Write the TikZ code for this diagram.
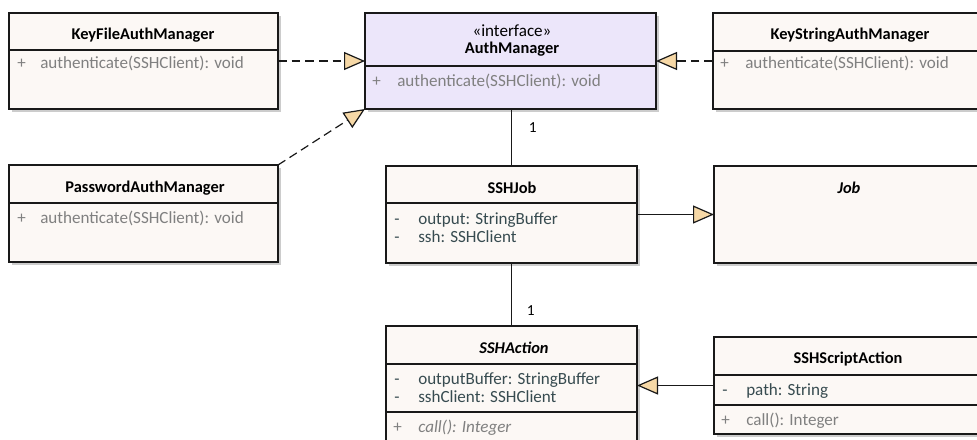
\documentclass[tikz,border=0pt]{standalone}
\usepackage{fontspec}
\setmainfont{Carlito}
\usetikzlibrary{arrows.meta,shadows}
\definecolor{boxfill}{RGB}{252,248,245}
\definecolor{ifill}{RGB}{236,230,250}
\definecolor{trifill}{RGB}{246,216,166}
\definecolor{methc}{RGB}{128,128,128}
\definecolor{attrc}{RGB}{55,75,80}
\definecolor{edgec}{RGB}{25,25,25}
\begin{document}
\begin{tikzpicture}[x=0.75pt,y=-0.75pt,
 cls/.style={draw=edgec,line width=1.3pt,fill=boxfill,rectangle,inner sep=0,outer sep=0,anchor=north west,
   drop shadow={shadow xshift=2.2pt,shadow yshift=-2.2pt,fill=black,opacity=0.2}},
 iface/.style={cls,fill=ifill},
 title/.style={font=\fontsize{12.3}{14}\selectfont\bfseries, inner sep=0, anchor=center},
 meth/.style={font=\fontsize{12.8}{15}\selectfont, text=methc, inner sep=0, anchor=west,
   text height=1.55ex, text depth=0.45ex, yshift=-1.2pt},
 attr/.style={meth,text=attrc},
 sepline/.style={draw=edgec,line width=0.9pt},
 gen/.style={draw=edgec,line width=0.9pt,-{Triangle[length=15.75pt,width=13.5pt,fill=trifill]}},
 real/.style={gen,dash pattern=on 6.5pt off 3.75pt},
 assoc/.style={draw=edgec,line width=0.9pt},
 mult/.style={font=\fontsize{11.5}{13}\selectfont,inner sep=0,anchor=west}
]
\clip (0,0) rectangle (977,439);
\fill[white] (0,0) rectangle (977,439);

% boxes
\node[cls,minimum width=201.75pt,minimum height=72pt] (KF) at (9,13) {};
\node[iface,minimum width=218.25pt,minimum height=72pt] (AM) at (365,13) {};
\node[cls,minimum width=211.5pt,minimum height=72pt] (KS) at (713,13) {};
\node[cls,minimum width=201.75pt,minimum height=72.75pt] (PW) at (9,165) {};
\node[cls,minimum width=188.25pt,minimum height=72.75pt] (SJ) at (386,166) {};
\node[cls,minimum width=211.5pt,minimum height=72.75pt] (JB) at (714,166) {};
\node[cls,minimum width=188.25pt,minimum height=93pt] (SA) at (386,326) {};
\node[cls,minimum width=211.5pt,minimum height=72.75pt] (SSA) at (714,337) {};

% separators
\draw[sepline] (KF.west |- 0,50) -- (KF.east |- 0,50);
\draw[sepline] (AM.west |- 0,66) -- (AM.east |- 0,66);
\draw[sepline] (KS.west |- 0,51) -- (KS.east |- 0,51);
\draw[sepline] (PW.west |- 0,203) -- (PW.east |- 0,203);
\draw[sepline] (SJ.west |- 0,203) -- (SJ.east |- 0,203);
\draw[sepline] (SA.west |- 0,364) -- (SA.east |- 0,364);
\draw[sepline] (SA.west |- 0,412) -- (SA.east |- 0,412);
\draw[sepline] (SSA.west |- 0,375) -- (SSA.east |- 0,375);
\draw[sepline] (SSA.west |- 0,405) -- (SSA.east |- 0,405);

% texts
\node[title] (KFt) at (143,35) {KeyFileAuthManager};
\node[meth] (KFp) at (17,63) {+};
\node[meth] (KFm) at (40,63) {authenticate(SSHClient): void};

\node[title,font=\fontsize{12.8}{15}\selectfont] (AMs) at (512,31) {«interface»};
\node[title] (AMt) at (512,49) {AuthManager};
\node[meth] (AMp) at (372,81) {+};
\node[meth] (AMm) at (397,81) {authenticate(SSHClient): void};

\node[title] (KSt) at (850,35) {KeyStringAuthManager};
\node[meth] (KSp) at (720,63) {+};
\node[meth] (KSm) at (745,63) {authenticate(SSHClient): void};

\node[title] (PWt) at (145,188) {PasswordAuthManager};
\node[meth] (PWp) at (17,218) {+};
\node[meth] (PWm) at (40,218) {authenticate(SSHClient): void};

\node[title] (SJt) at (512,188) {SSHJob};
\node[attr] (SJd1) at (394,219) {-};
\node[attr] (SJa1) at (418,219) {output: StringBuffer};
\node[attr] (SJd2) at (394,237) {-};
\node[attr] (SJa2) at (418,237) {ssh: SSHClient};

\node[title,font=\fontsize{12.3}{14}\selectfont\bfseries\itshape] (JBt) at (849,188) {Job};

\node[title,font=\fontsize{12.3}{14}\selectfont\bfseries\itshape] (SAt) at (514,348) {SSHAction};
\node[attr] (SAd1) at (394,379) {-};
\node[attr] (SAa1) at (418,379) {outputBuffer: StringBuffer};
\node[attr] (SAd2) at (394,397) {-};
\node[attr] (SAa2) at (418,397) {sshClient: SSHClient};
\node[meth] (SAp) at (393,427) {+};
\node[meth,font=\fontsize{12.8}{15}\selectfont\itshape] (SAm) at (418,427) {call(): Integer};

\node[title] (SSAt) at (848,359) {SSHScriptAction};
\node[attr] (SSAd) at (722,390) {-};
\node[attr] (SSAa) at (746,390) {path: String};
\node[meth] (SSAp) at (721,420) {+};
\node[meth] (SSAm) at (746,420) {call(): Integer};

% connectors
\draw[real] (KF.east) -- (AM.west);
\draw[real] (KS.west) -- (AM.east);
\draw[real] (PW.north east) -- (AM.south west);
\draw[assoc] (SJ.north) -- (SJ.north |- AM.south) node[mult,pos=0.67,xshift=12.5pt] (m1) {1};
\draw[gen] (SJ.east) -- (JB.west);
\draw[assoc] (SJ.south) -- (SA.north) node[mult,pos=0.75,xshift=11pt] (m2) {1};
\draw[gen] (SSA.west) -- (SA.east |- SSA.west);
\end{tikzpicture}
\end{document}
